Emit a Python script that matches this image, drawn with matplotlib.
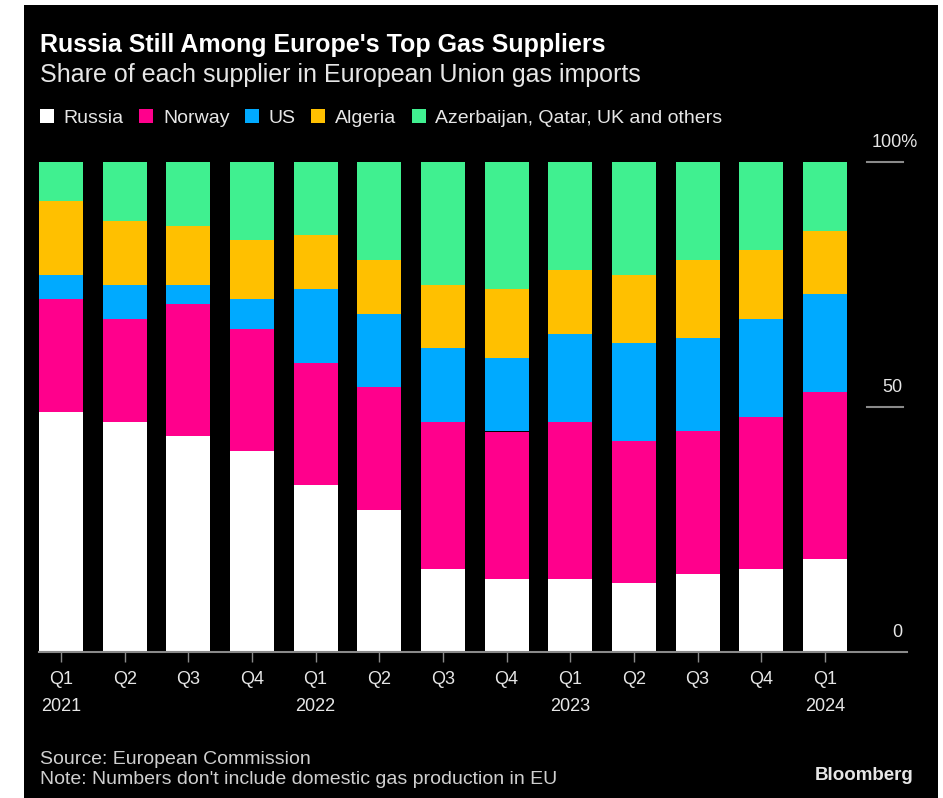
import matplotlib.pyplot as plt
from matplotlib.patches import Rectangle
import numpy as np

W, H = 943, 798

quarters = ["Q1", "Q2", "Q3", "Q4", "Q1", "Q2", "Q3", "Q4", "Q1", "Q2", "Q3", "Q4", "Q1"]
years = {0: "2021", 4: "2022", 8: "2023", 12: "2024"}

russia = [49, 47, 44, 41, 34, 29, 17, 15, 15, 14, 16, 17, 19]
norway = [23, 21, 27, 25, 25, 25, 30, 30, 32, 29, 29, 31, 34]
us = [5, 7, 4, 6, 15, 15, 15, 15, 18, 20, 19, 20, 20]
algeria = [15, 13, 12, 12, 11, 11, 13, 14, 13, 14, 16, 14, 13]
others = [8, 12, 13, 16, 15, 20, 25, 26, 22, 23, 20, 18, 14]

series = [
    ("Russia", russia, "#ffffff"),
    ("Norway", norway, "#ff008c"),
    ("US", us, "#00aaff"),
    ("Algeria", algeria, "#ffc000"),
    ("Azerbaijan, Qatar, UK and others", others, "#40f090"),
]

plt.rcParams['font.family'] = ['Liberation Sans', 'DejaVu Sans']


def fx(x):
    return x / W


def fy(y):
    return 1 - y / H


fig = plt.figure(figsize=(W / 100, H / 100), dpi=100)
fig.patch.set_facecolor("white")
fig.patches.append(Rectangle((fx(24), 0), fx(938) - fx(24), fy(5), transform=fig.transFigure,
                             facecolor="black", edgecolor="none", zorder=-10))

ax = fig.add_axes([fx(39), fy(652), fx(907) - fx(39), fy(162) - fy(652)])
ax.set_facecolor("black")
ax.set_zorder(5)

x = np.arange(len(quarters))
bottom = np.zeros(len(quarters))
handles = []
for name, vals, col in series:
    b = ax.bar(x, vals, bottom=bottom, width=0.69, color=col, label=name, zorder=2)
    handles.append(b)
    bottom += np.array(vals)

ax.set_xlim(-0.3455, 13.29)
ax.set_ylim(0, 100)
for s in ["top", "right", "left"]:
    ax.spines[s].set_visible(False)
ax.spines["bottom"].set_color("#8a8a8a")
ax.spines["bottom"].set_linewidth(1.5)
ax.set_yticks([])
ax.set_xticks(x)
ax.set_xticklabels(quarters, color="#e6e6e6", fontsize=13)
ax.tick_params(axis="x", colors="#8a8a8a", length=7, width=1, pad=7, labelcolor="#e6e6e6")

for i, yr in years.items():
    ax.text(i, -0.112, yr, transform=ax.get_xaxis_transform(), ha="center", va="center",
            fontsize=13, color="#e6e6e6")

# right-side value labels with short guide lines
tr = ax.get_yaxis_transform()
for val in [100, 50]:
    ax.plot([0.954, 0.995], [val, val], transform=tr, color="#8a8a8a", lw=1.5, clip_on=False)
ax.text(0.959, 104, "100%", transform=tr, ha="left", va="center", fontsize=13, color="#e6e6e6")
ax.text(0.995, 54, "50", transform=tr, ha="right", va="center", fontsize=13, color="#e6e6e6")
ax.text(0.995, 4, "0", transform=tr, ha="right", va="center", fontsize=13, color="#e6e6e6")

fig.text(fx(40), fy(45), "Russia Still Among Europe's Top Gas Suppliers", fontsize=18,
         fontweight="bold", color="white", va="center", ha="left")
fig.text(fx(40), fy(75), "Share of each supplier in European Union gas imports", fontsize=18,
         color="#e6e6e6", va="center", ha="left")

leg = fig.legend(handles=handles, loc="center left", bbox_to_anchor=(fx(32), fy(118)), ncol=5,
                 frameon=False, fontsize=14, handlelength=0.72, handleheight=0.72,
                 handletextpad=0.5, columnspacing=0.8, borderaxespad=0)
for t in leg.get_texts():
    t.set_color("#e6e6e6")

fig.text(fx(40), fy(759), "Source: European Commission", fontsize=14, color="#cfcfcf",
         va="center", ha="left")
fig.text(fx(40), fy(780), "Note: Numbers don't include domestic gas production in EU", fontsize=14,
         color="#cfcfcf", va="center", ha="left")
fig.text(fx(913), fy(775), "Bloomberg", fontsize=13.5, fontweight="bold", color="#e6e6e6",
         va="center", ha="right")

fig.savefig("out.png", dpi=100, facecolor=fig.get_facecolor())
